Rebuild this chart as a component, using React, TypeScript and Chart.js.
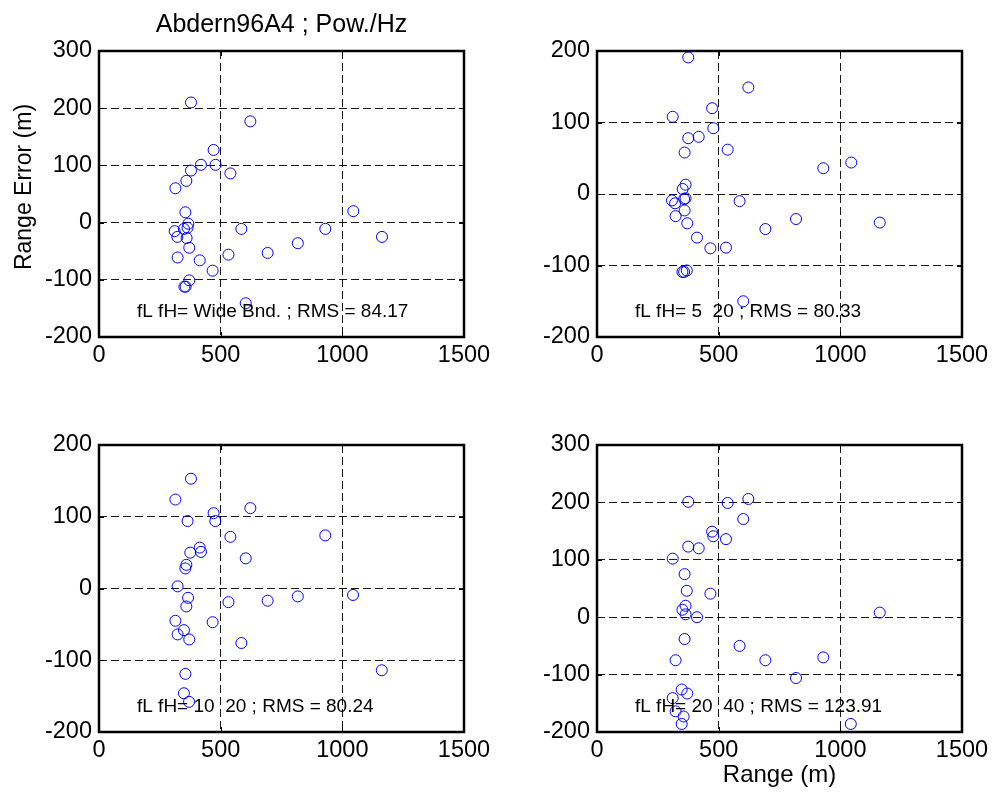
import React, { useEffect, useRef } from 'react';
import { Chart, registerables } from 'chart.js';

Chart.register(...registerables);

const FIG_TITLE = 'Abdern96A4 ; Pow./Hz';
const Y_TITLE = 'Range Error (m)';
const X_TITLE = 'Range (m)';

const X_TICKS = [0, 500, 1000, 1500];
const Y_TICKS_300 = [-200, -100, 0, 100, 200, 300];
const Y_TICKS_200 = [-200, -100, 0, 100, 200];

const LABEL_1 = 'fL fH= Wide Bnd. ; RMS = 84.17';
const LABEL_2 = 'fL fH= 5  20 ; RMS = 80.33';
const LABEL_3 = 'fL fH= 10  20 ; RMS = 80.24';
const LABEL_4 = 'fL fH= 20  40 ; RMS = 123.91';

const range1 = [378, 622, 471, 419, 479, 378, 540, 359, 314, 355, 1045, 367, 364, 349, 311, 585, 930, 322, 360, 1163, 817, 371, 693, 532, 323, 414, 467, 371, 351, 356, 603];
const err1 = [210, 177, 127, 101, 101, 91, 86, 73, 60, 18, 20, -2, -9, -11, -15, -11, -11, -25, -27, -25, -36, -44, -53, -56, -61, -66, -84, -101, -112, -112, -141];

const range2 = [375, 622, 473, 311, 478, 375, 418, 537, 360, 930, 1045, 364, 352, 308, 321, 358, 364, 586, 360, 323, 371, 818, 1162, 692, 411, 466, 530, 351, 369, 358, 601];
const err2 = [191, 149, 120, 108, 92, 78, 80, 62, 58, 36, 44, 13, 7, -9, -13, -7, -6, -10, -23, -31, -41, -35, -40, -49, -61, -76, -75, -109, -107, -109, -150];

const range3 = [378, 314, 622, 471, 364, 478, 540, 930, 414, 419, 375, 603, 359, 355, 323, 366, 1044, 817, 693, 532, 359, 314, 467, 349, 323, 371, 585, 1162, 355, 349, 370];
const err3 = [153, 124, 112, 105, 94, 94, 72, 74, 57, 51, 50, 42, 33, 28, 3, -13, -9, -11, -17, -19, -25, -45, -47, -58, -64, -71, -76, -114, -119, -146, -158];

const range4 = [375, 537, 622, 601, 473, 478, 530, 375, 418, 311, 360, 369, 466, 364, 351, 364, 411, 1162, 360, 586, 323, 692, 930, 818, 348, 371, 311, 323, 356, 348, 1043];
const err4 = [201, 199, 206, 171, 149, 141, 136, 123, 120, 102, 75, 46, 41, 20, 13, 5, 0, 8, -38, -50, -75, -75, -70, -106, -126, -133, -141, -164, -173, -186, -186];

const FONT = '"Liberation Sans", Arial, Helvetica, sans-serif';

type Panel = {
  range: number[];
  err: number[];
  yTicks: number[];
  label: string;
  left: number;
  top: number;
  w: number;
  h: number;
  yWidth: number;
  xHeight: number;
  padTop: number;
  padRight: number;
  figTitle?: boolean;
  yTitle?: boolean;
  xTitle?: boolean;
};

const PANELS: Panel[] = [
  { range: range1, err: err1, yTicks: Y_TICKS_300, label: LABEL_1, left: 0, top: 0, w: 500, h: 400, yWidth: 99, xHeight: 63, padTop: 51, padRight: 36, figTitle: true, yTitle: true },
  { range: range2, err: err2, yTicks: Y_TICKS_200, label: LABEL_2, left: 500, top: 0, w: 497, h: 400, yWidth: 97, xHeight: 63, padTop: 51, padRight: 35 },
  { range: range3, err: err3, yTicks: Y_TICKS_200, label: LABEL_3, left: 0, top: 400, w: 500, h: 400, yWidth: 99, xHeight: 68, padTop: 45, padRight: 36 },
  { range: range4, err: err4, yTicks: Y_TICKS_300, label: LABEL_4, left: 500, top: 400, w: 497, h: 400, yWidth: 97, xHeight: 68, padTop: 45, padRight: 35, xTitle: true },
];

const decoPlugin = {
  id: 'deco',
  afterDatasetsDraw(chart: any, _args: any, opts: any) {
    const { ctx, chartArea: a } = chart;
    const xs = chart.scales.x;
    const ys = chart.scales.y;
    ctx.save();
    ctx.setLineDash([]);
    ctx.strokeStyle = '#000';
    ctx.lineWidth = 1;
    ctx.beginPath();
    xs.ticks.forEach((t: any) => {
      const px = Math.round(xs.getPixelForValue(t.value)) + 0.5;
      ctx.moveTo(px, a.bottom);
      ctx.lineTo(px, a.bottom - 5);
      ctx.moveTo(px, a.top);
      ctx.lineTo(px, a.top + 5);
    });
    ys.ticks.forEach((t: any) => {
      const py = Math.round(ys.getPixelForValue(t.value)) + 0.5;
      ctx.moveTo(a.left, py);
      ctx.lineTo(a.left + 5, py);
      ctx.moveTo(a.right, py);
      ctx.lineTo(a.right - 5, py);
    });
    ctx.stroke();
    ctx.lineWidth = 2.5;
    ctx.strokeRect(a.left, a.top, a.right - a.left, a.bottom - a.top);

    ctx.fillStyle = '#000';
    ctx.textBaseline = 'alphabetic';
    ctx.textAlign = 'left';
    ctx.font = `19px ${FONT}`;
    ctx.fillText(opts.label, a.left + 38, a.bottom - 20);

    if (opts.figTitle) {
      ctx.textAlign = 'center';
      ctx.font = `25px ${FONT}`;
      ctx.fillText(FIG_TITLE, (a.left + a.right) / 2, a.top - 19);
    }
    if (opts.xTitle) {
      ctx.textAlign = 'center';
      ctx.font = `24px ${FONT}`;
      ctx.fillText(X_TITLE, (a.left + a.right) / 2, a.bottom + 50);
    }
    if (opts.yTitle) {
      ctx.translate(a.left - 74, (a.top + a.bottom) / 2 - 7);
      ctx.rotate(-Math.PI / 2);
      ctx.textAlign = 'center';
      ctx.textBaseline = 'middle';
      ctx.font = `23px ${FONT}`;
      ctx.fillText(Y_TITLE, 0, 0);
    }
    ctx.restore();
  },
};

function SubPlot({ p }: { p: Panel }) {
  const ref = useRef<HTMLCanvasElement>(null);
  useEffect(() => {
    if (!ref.current) return;
    const chart = new Chart(ref.current, {
      type: 'scatter',
      data: {
        datasets: [
          {
            data: p.range.map((x, i) => ({ x, y: p.err[i] })),
            pointStyle: 'circle',
            pointRadius: 5.5,
            pointHoverRadius: 5.5,
            borderColor: '#0000ff',
            backgroundColor: 'rgba(0,0,0,0)',
            borderWidth: 1,
            showLine: false,
          },
        ],
      },
      options: {
        animation: false,
        responsive: false,
        devicePixelRatio: 1,
        events: [],
        layout: { autoPadding: false, padding: { top: p.padTop, right: p.padRight, left: 0, bottom: 0 } },
        plugins: {
          legend: { display: false },
          tooltip: { enabled: false },
          title: { display: false },
          deco: { label: p.label, figTitle: !!p.figTitle, xTitle: !!p.xTitle, yTitle: !!p.yTitle },
        } as any,
        scales: {
          x: {
            type: 'linear',
            position: 'bottom',
            min: X_TICKS[0],
            max: X_TICKS[X_TICKS.length - 1],
            afterBuildTicks: (s: any) => {
              s.ticks = X_TICKS.map((v) => ({ value: v }));
            },
            afterFit: (s: any) => {
              s.height = p.xHeight;
              s.paddingLeft = 0;
              s.paddingRight = 0;
              s.paddingTop = 0;
              s.paddingBottom = 0;
            },
            grid: { display: true, color: 'rgba(0,0,0,0.9)', lineWidth: 1, drawTicks: false },
            border: { display: false, dash: [8, 4] },
            ticks: {
              color: '#000',
              font: { family: FONT, size: 23.5 },
              padding: 4,
              maxRotation: 0,
              autoSkip: false,
              callback: (v: any) => String(v),
            },
          },
          y: {
            type: 'linear',
            position: 'left',
            min: p.yTicks[0],
            max: p.yTicks[p.yTicks.length - 1],
            afterBuildTicks: (s: any) => {
              s.ticks = p.yTicks.map((v) => ({ value: v }));
            },
            afterFit: (s: any) => {
              s.width = p.yWidth;
              s.paddingLeft = 0;
              s.paddingRight = 0;
              s.paddingTop = 0;
              s.paddingBottom = 0;
            },
            grid: { display: true, color: 'rgba(0,0,0,0.9)', lineWidth: 1, drawTicks: false },
            border: { display: false, dash: [8, 4] },
            ticks: {
              color: '#000',
              font: { family: FONT, size: 23.5 },
              padding: 7,
              autoSkip: false,
              callback: (v: any) => String(v),
            },
          },
        },
      },
      plugins: [decoPlugin],
    } as any);
    return () => chart.destroy();
  }, [p]);
  return (
    <canvas
      ref={ref}
      width={p.w}
      height={p.h}
      style={{ position: 'absolute', left: p.left, top: p.top, width: p.w, height: p.h }}
    />
  );
}

export default function App() {
  return (
    <div style={{ position: 'absolute', left: 0, top: 0, width: 997, height: 800, background: '#fff' }}>
      {PANELS.map((p, i) => (
        <SubPlot key={i} p={p} />
      ))}
    </div>
  );
}
